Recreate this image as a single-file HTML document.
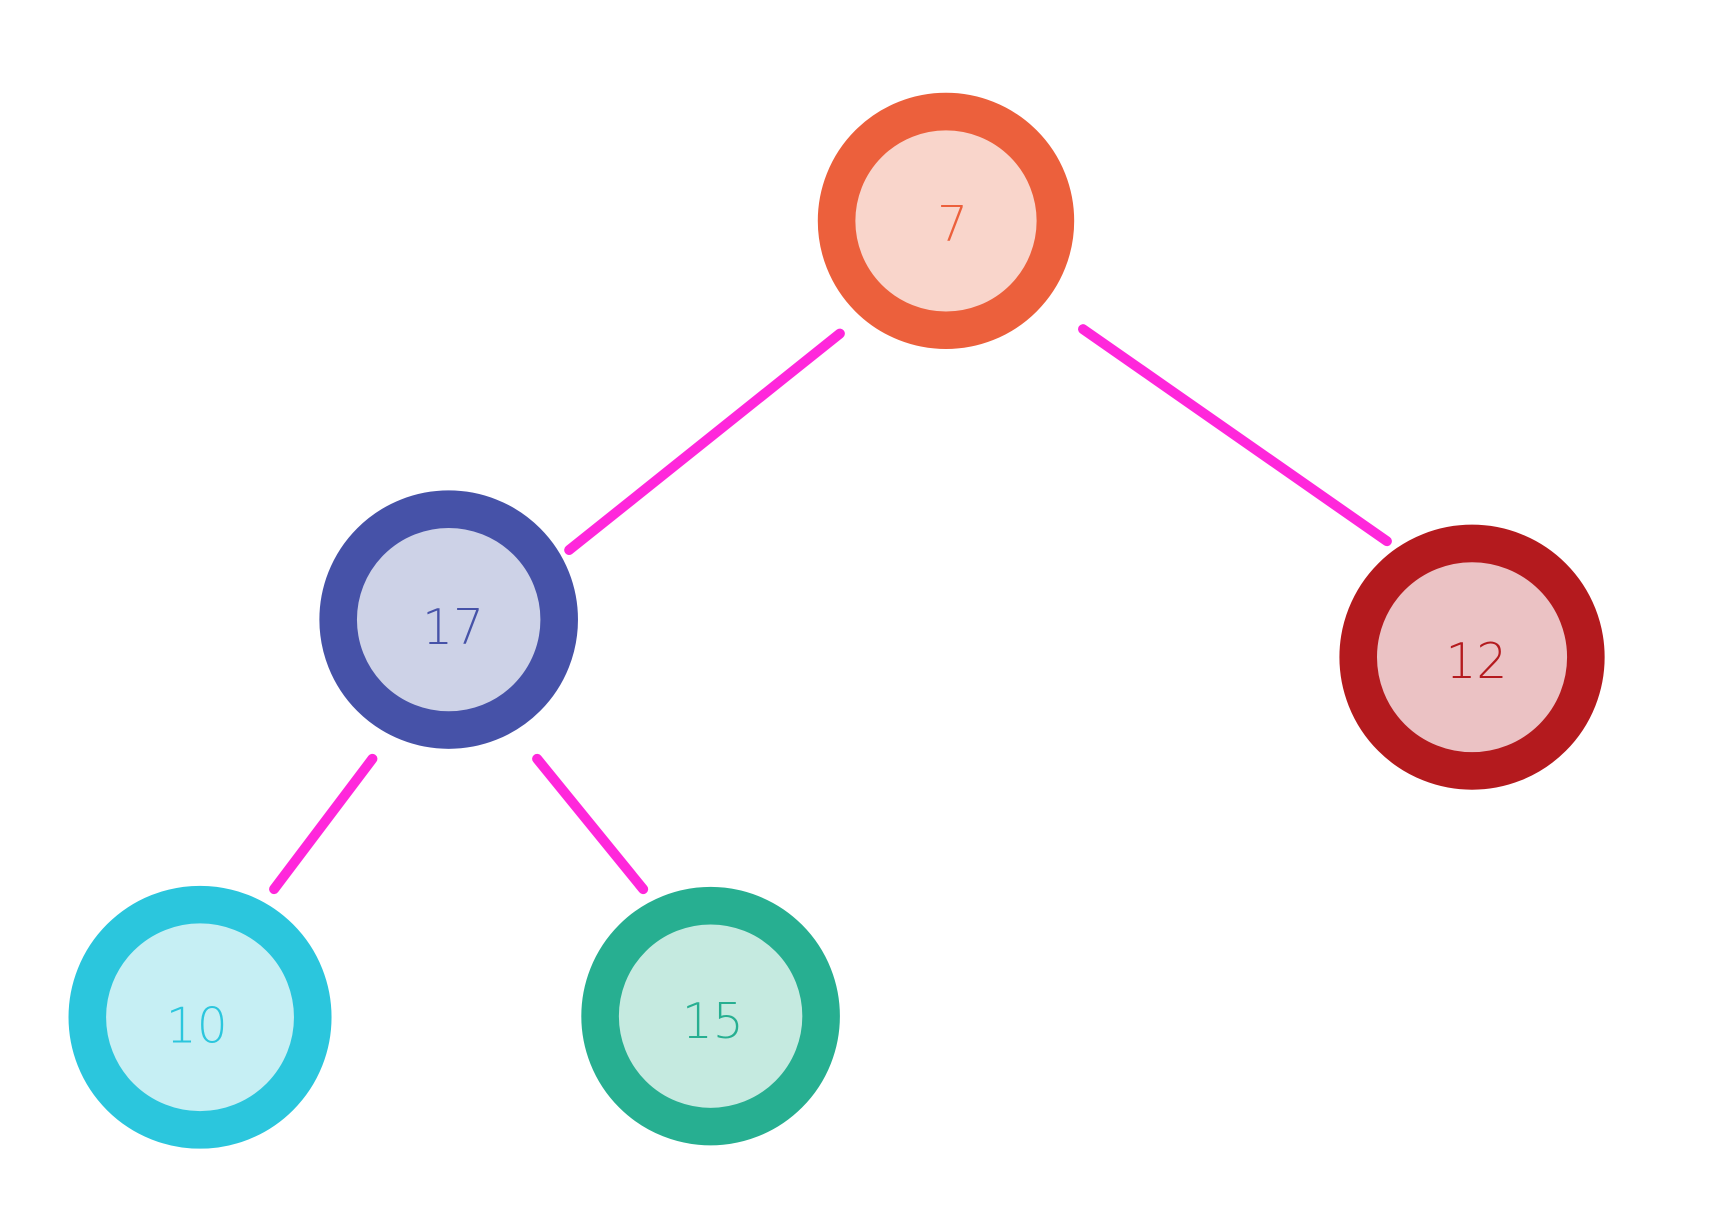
<!DOCTYPE html>
<html><head><meta charset="utf-8"><style>html,body{margin:0;padding:0;background:#fff}svg{display:block}</style></head>
<body>
<svg width="1724" height="1226" viewBox="0 0 1560 1110" preserveAspectRatio="none" xmlns="http://www.w3.org/2000/svg">
<g stroke="#FF27DB" stroke-width="9" stroke-linecap="round">
<line x1="760" y1="302" x2="515" y2="498"/>
<line x1="980" y1="298" x2="1255" y2="490"/>
<line x1="337" y1="687" x2="248" y2="805"/>
<line x1="486" y1="687" x2="582" y2="805"/>
</g>
<g stroke-width="34" font-family="DejaVu Sans, sans-serif" font-weight="200" font-size="44" text-anchor="middle">
<circle cx="856" cy="200" r="99" fill="#F9D5CB" stroke="#EC603C"/>
<text x="862" y="218" fill="#EC603C" stroke="none">7</text>
<circle cx="406" cy="561" r="100" fill="#CDD2E7" stroke="#4652A8"/>
<text x="410" y="583" fill="#4652A8" stroke="none">17</text>
<circle cx="1332" cy="595" r="103" fill="#EBC2C4" stroke="#B41A1E"/>
<text x="1336" y="614" fill="#B41A1E" stroke="none">12</text>
<circle cx="181" cy="921" r="102" fill="#C6EFF4" stroke="#2BC6DD"/>
<text x="178" y="944" fill="#2BC6DD" stroke="none">10</text>
<circle cx="643" cy="920" r="100" fill="#C5EAE0" stroke="#27AF91"/>
<text x="645" y="940" fill="#27AF91" stroke="none">15</text>
</g>
</svg>
</body></html>
